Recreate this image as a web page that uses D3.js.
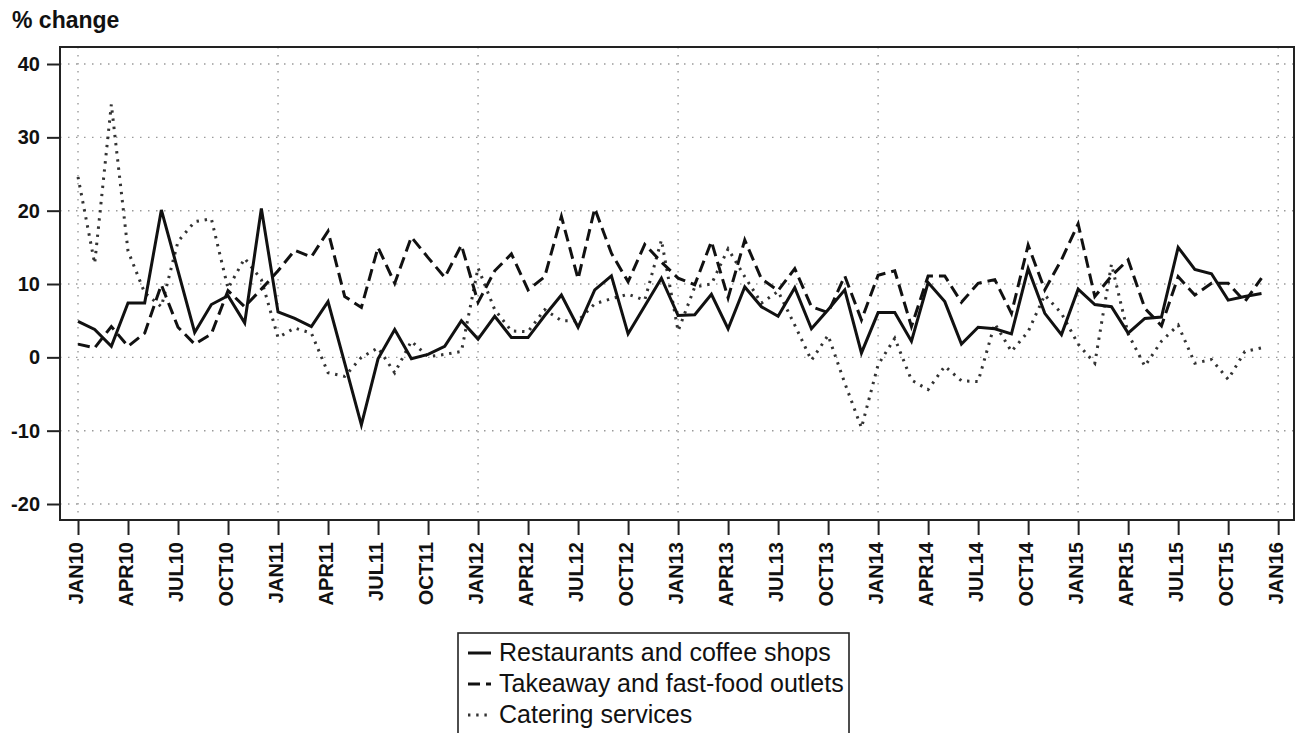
<!DOCTYPE html>
<html>
<head>
<meta charset="utf-8">
<script src="https://cdn.jsdelivr.net/npm/d3@7"></script>
<style>
    body { margin: 0; background: #fff; }
    svg { display: block; font-family: "Liberation Sans", Arial, sans-serif; }
</style>
</head>
<body>
<svg id="chart" width="1302" height="733"></svg>
<script>
// month index 0 = JAN10 ... 71 = DEC15
var restaurants = [4.9, 3.8, 1.5, 7.4, 7.4, 20.1, 11.8, 3.4, 7.2, 8.4, 4.7, 20.3,
    6.2, 5.3, 4.2, 7.6, -0.8, -9.2, -0.2, 3.8, -0.2, 0.4, 1.5, 5.0,
    2.5, 5.6, 2.7, 2.7, 5.7, 8.5, 4.1, 9.2, 11.1, 3.2, 7.0, 10.8,
    5.7, 5.8, 8.6, 3.9, 9.6, 6.9, 5.6, 9.5, 3.9, 6.5, 9.2, 0.6,
    6.1, 6.1, 2.2, 10.2, 7.6, 1.8, 4.1, 3.9, 3.2, 12.1, 6.0, 3.1,
    9.3, 7.2, 6.9, 3.3, 5.3, 5.5, 15.0, 12.0, 11.4, 7.8, 8.3, 8.7];

var takeaway = [1.8, 1.3, 4.2, 1.5, 3.3, 9.9, 4.1, 1.8, 3.2, 9.1, 6.9, 9.3,
    11.8, 14.6, 13.7, 17.2, 8.3, 6.8, 15.0, 10.1, 16.4, 13.6, 10.9, 15.3,
    7.5, 11.8, 14.1, 9.2, 11.0, 19.2, 10.7, 20.3, 14.2, 10.3, 15.4, 13.0,
    10.8, 9.9, 15.8, 8.1, 16.0, 10.7, 9.1, 12.1, 6.9, 6.1, 11.1, 5.1,
    11.2, 11.8, 4.2, 11.1, 11.1, 7.5, 10.1, 10.6, 6.0, 15.3, 9.2, 13.3,
    18.2, 8.3, 11.1, 13.3, 6.7, 4.3, 11.0, 8.5, 10.1, 10.1, 7.6, 10.8];

var catering = [24.6, 12.8, 34.5, 14.5, 8.8, 6.9, 15.8, 18.5, 18.9, 9.4, 13.5, 10.6,
    2.7, 4.0, 3.3, -2.1, -2.6, 0.0, 1.3, -2.1, 2.2, 0.1, 0.4, 0.8,
    12.2, 6.5, 3.6, 3.5, 6.5, 5.0, 5.0, 7.3, 8.0, 8.6, 7.8, 16.0,
    3.6, 9.6, 10.0, 14.8, 11.0, 7.4, 9.0, 4.4, -0.4, 3.0, -3.5, -9.6,
    -1.0, 2.6, -3.1, -4.4, -1.2, -3.2, -3.3, 4.6, 0.8, 3.5, 8.5, 6.0,
    1.8, -0.8, 12.7, 3.2, -1.2, 2.2, 4.4, -0.8, -0.3, -3.0, 0.8, 1.3];

var xTickMonths = [0, 3, 6, 9, 12, 15, 18, 21, 24, 27, 30, 33, 36, 39, 42, 45, 48,
    51, 54, 57, 60, 63, 66, 69, 72];
var xTickLabels = ['JAN10', 'APR10', 'JUL10', 'OCT10', 'JAN11', 'APR11', 'JUL11', 'OCT11',
    'JAN12', 'APR12', 'JUL12', 'OCT12', 'JAN13', 'APR13', 'JUL13', 'OCT13',
    'JAN14', 'APR14', 'JUL14', 'OCT14', 'JAN15', 'APR15', 'JUL15', 'OCT15', 'JAN16'];
var xGridMonths = [0, 12, 24, 36, 48, 60, 72];
var yTicks = [-20, -10, 0, 10, 20, 30, 40];

var seriesNames = ['Restaurants and coffee shops', 'Takeaway and fast-food outlets', 'Catering services'];

var box = {left: 60, top: 47, right: 1294, bottom: 520};

var svg = d3.select('#chart');

var x = d3.scaleLinear().domain([-1.08, 72.95]).range([box.left, box.right]);
var y = d3.scaleLinear().domain([-22.18, 42.32]).range([box.bottom, box.top]);

// grid
var grid = svg.append('g');
grid.selectAll('.hgrid').data(yTicks).enter().append('line')
    .attr('x1', box.left).attr('x2', box.right)
    .attr('y1', function (d) { return y(d); }).attr('y2', function (d) { return y(d); })
    .attr('stroke', '#9a9a9a').attr('stroke-width', 1.4).attr('stroke-dasharray', '1.5,6.5');
grid.selectAll('.vgrid').data(xGridMonths).enter().append('line')
    .attr('y1', box.top).attr('y2', box.bottom)
    .attr('x1', function (d) { return x(d); }).attr('x2', function (d) { return x(d); })
    .attr('stroke', '#9a9a9a').attr('stroke-width', 1.4).attr('stroke-dasharray', '1.5,6.5');

// lines
var line = d3.line()
    .x(function (d, i) { return x(i); })
    .y(function (d) { return y(d); });

var styles = [
    {data: restaurants, color: '#111', dash: null, width: 3},
    {data: takeaway, color: '#111', dash: '12,6', width: 3},
    {data: catering, color: '#333', dash: '2.4,5.8', width: 3}
];

styles.slice().reverse().forEach(function (s) {
    svg.append('path')
        .datum(s.data)
        .attr('d', line)
        .attr('fill', 'none')
        .attr('stroke', s.color)
        .attr('stroke-width', s.width)
        .attr('stroke-linejoin', 'miter')
        .attr('stroke-dasharray', s.dash);
});

// frame
svg.append('rect')
    .attr('x', box.left).attr('y', box.top)
    .attr('width', box.right - box.left).attr('height', box.bottom - box.top)
    .attr('fill', 'none').attr('stroke', '#222').attr('stroke-width', 2);

// y axis
var yAxis = svg.append('g')
    .attr('transform', 'translate(' + box.left + ',0)')
    .call(d3.axisLeft(y).tickValues(yTicks).tickSize(13).tickPadding(7)
        .tickFormat(function (d) { return String(d); }));
yAxis.select('.domain').remove();
yAxis.selectAll('.tick line').attr('stroke', '#222').attr('stroke-width', 2);
yAxis.selectAll('.tick text')
    .attr('font-size', '20px').attr('font-weight', 'bold').attr('fill', '#111')
    .attr('font-family', '"Liberation Sans", Arial, sans-serif');

// x axis
var xAxis = svg.append('g')
    .attr('transform', 'translate(0,' + box.bottom + ')')
    .call(d3.axisBottom(x).tickValues(xTickMonths).tickSize(15)
        .tickFormat(function (d, i) { return xTickLabels[i]; }));
xAxis.select('.domain').remove();
xAxis.selectAll('.tick line').attr('stroke', '#222').attr('stroke-width', 2);
xAxis.selectAll('.tick text')
    .attr('font-size', '20px').attr('font-weight', 'bold').attr('fill', '#111')
    .attr('font-family', '"Liberation Sans", Arial, sans-serif')
    .attr('text-anchor', 'end')
    .attr('transform', 'rotate(-90)')
    .attr('x', -22).attr('y', 0).attr('dy', '0.22em');

// title
svg.append('text')
    .attr('x', 12).attr('y', 28)
    .attr('font-size', '23px').attr('font-weight', 'bold').attr('fill', '#111')
    .text('% change');

// legend
var legend = svg.append('g').attr('transform', 'translate(458,633)');
legend.append('rect')
    .attr('width', 391).attr('height', 120)
    .attr('fill', '#fff').attr('stroke', '#222').attr('stroke-width', 1.6);
styles.forEach(function (s, i) {
    var rowY = 28 + i * 31;
    legend.append('line')
        .attr('x1', 10).attr('x2', 33)
        .attr('y1', rowY - 8).attr('y2', rowY - 8)
        .attr('stroke', s.color).attr('stroke-width', s.width)
        .attr('stroke-dasharray', s.dash);
    legend.append('text')
        .attr('x', 41).attr('y', rowY)
        .attr('font-size', '25px').attr('fill', '#111')
        .text(seriesNames[i]);
});
</script>
</body>
</html>
